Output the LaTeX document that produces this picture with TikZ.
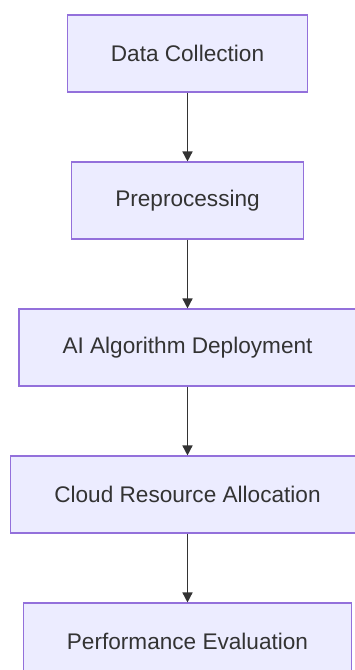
\documentclass[tikz,border=0pt]{standalone}
\usepackage{fontspec}
\setmainfont{Liberation Sans}
\usepackage{tikz}
\usetikzlibrary{positioning, arrows.meta}
\definecolor{boxFill}{HTML}{ECECFF}
\definecolor{boxBorder}{HTML}{9370DB}
\definecolor{inkColor}{HTML}{333333}
\tikzstyle{stageBox} = [draw=boxBorder, fill=boxFill, line width=1.1pt, text=inkColor, font=\fontsize{22.6}{27}\selectfont, inner xsep=43.5pt, minimum height=77pt]
\tikzstyle{flowArrow} = [draw=inkColor, line width=1.5pt, -{Triangle[length=10pt, width=10pt]}]

\begin{document}
\begin{tikzpicture}[x=1pt, y=-1pt]
        \useasboundingbox (0,0) rectangle (355,670);

        \node [stageBox] (dataCollection) at (187.5,53.5) {Data Collection};
        \node [stageBox, below=68.9pt of dataCollection] (preprocessing) {Preprocessing};
        \node [stageBox, below=68.9pt of preprocessing] (aiDeployment) {AI Algorithm Deployment};
        \node [stageBox, below=68.9pt of aiDeployment] (cloudAllocation) {Cloud Resource Allocation};
        \node [stageBox, below=68.9pt of cloudAllocation] (performanceEval) {Performance Evaluation};

        \draw [flowArrow] (dataCollection) -- (preprocessing);
        \draw [flowArrow] (preprocessing) -- (aiDeployment);
        \draw [flowArrow] (aiDeployment) -- (cloudAllocation);
        \draw [flowArrow] (cloudAllocation) -- (performanceEval);
      \end{tikzpicture}
\end{document}
